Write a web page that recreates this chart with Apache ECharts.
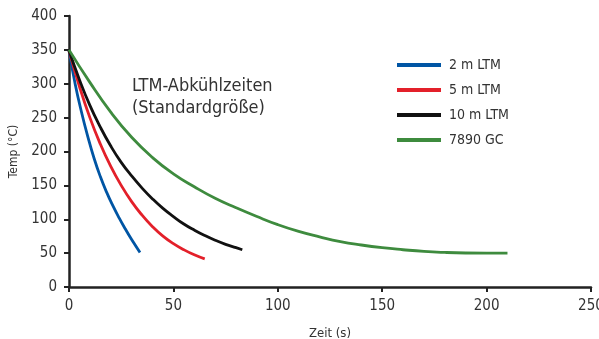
<!DOCTYPE html>
<html><head><meta charset="utf-8">
<script src="https://cdn.jsdelivr.net/npm/echarts@6/dist/echarts.min.js"></script>
<style>html,body{margin:0;padding:0;background:#fff}#c{width:599px;height:339px}</style>
</head><body><div id="c"></div>
<script>
const seriesNames = ['2 m LTM', '5 m LTM', '10 m LTM', '7890 GC'];
const blue2m = [[0,349],[3,299],[6,258],[9,222],[12,190],[15,163],[18,140],[21,120],[24,102],[27,85.5],[30,70],[34,51]];
const red5m = [[0,349],[5,296],[10,250],[15,211],[20,178],[25,150],[30,126],[35,106],[40,89],[45,75],[50,64],[55,55],[60,47.5],[65,41.5]];
const black10m = [[0,349],[5,306],[10,268],[15,236],[20,208],[25,184],[30,164],[35,146],[40,130],[45,116],[50,104],[55,93],[60,84],[65,76],[70,69],[75,63],[80,58],[83,55]];
const green7890 = [[0,350],[10,302],[20,258],[30,221],[40,191],[50,167],[60,148],[70,131],[80,117],[90,104],[100,92],[110,82],[120,74],[130,67],[140,62],[150,58],[160,55],[170,52.5],[180,51],[190,50.2],[200,50],[210,50]];
const xTicks = [0, 50, 100, 150, 200, 250];
const yTicks = [0, 50, 100, 150, 200, 250, 300, 350, 400];
const titleLines = ['LTM-Abkühlzeiten', '(Standardgröße)'];
const xName = 'Zeit (s)';
const yName = 'Temp (°C)';

const FONT = '"DejaVu Sans Condensed", "Liberation Sans", Arial, sans-serif';
const colors = ['#0055a4', '#e3202a', '#111111', '#3e8b3e'];
const data = [blue2m, red5m, black10m, green7890];

const chart = echarts.init(document.getElementById('c'), null, {renderer: 'canvas'});
chart.setOption({
  animation: false,
  backgroundColor: '#fff',
  textStyle: {fontFamily: FONT},
  title: {
    text: titleLines.join('\n'),
    left: 127, top: 70,
    textStyle: {fontFamily: FONT, fontSize: 18, fontWeight: 'normal', color: '#333', lineHeight: 22}
  },
  legend: {
    orient: 'vertical',
    left: 392, top: 53,
    itemWidth: 44, itemHeight: 4, itemGap: 11,
    icon: 'rect',
    textStyle: {fontFamily: FONT, fontSize: 14, color: '#333', lineHeight: 14, padding: [0,0,0,3]},
    data: seriesNames
  },
  grid: {left: 69, right: 8, top: 16, bottom: 52, containLabel: false, outerBoundsMode: 'none'},
  xAxis: {
    type: 'value', min: xTicks[0], max: xTicks[xTicks.length-1], interval: 50,
    name: xName, nameLocation: 'middle', nameGap: 40,
    nameTextStyle: {fontFamily: FONT, fontSize: 13, color: '#333'},
    axisLine: {show: true, onZero: false, lineStyle: {color: '#222', width: 2.5}},
    axisTick: {show: true, length: 5, lineStyle: {color: '#222', width: 2}},
    axisLabel: {fontFamily: FONT, fontSize: 15, color: '#333', margin: 12},
    splitLine: {show: false}
  },
  yAxis: {
    type: 'value', min: yTicks[0], max: yTicks[yTicks.length-1], interval: 50,
    name: yName, nameLocation: 'middle', nameGap: 43, nameRotate: 90,
    nameTextStyle: {fontFamily: FONT, fontSize: 12, color: '#333'},
    axisLine: {show: true, onZero: false, lineStyle: {color: '#222', width: 2.5}},
    axisTick: {show: true, length: 5, lineStyle: {color: '#222', width: 2}},
    axisLabel: {fontFamily: FONT, fontSize: 15, color: '#333', margin: 12},
    splitLine: {show: false}
  },
  series: seriesNames.map((n, i) => ({
    name: n, type: 'line', smooth: true, showSymbol: false, symbol: 'none',
    data: data[i], color: colors[i],
    lineStyle: {width: 2.8, color: colors[i]}
  }))
});
</script></body></html>
